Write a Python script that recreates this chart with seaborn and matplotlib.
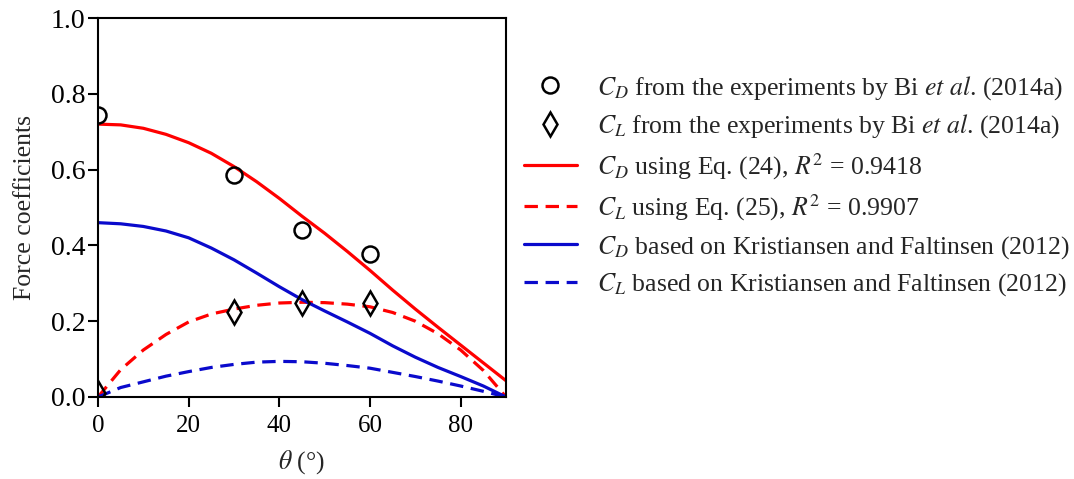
import matplotlib
matplotlib.use("Agg")
import matplotlib.pyplot as plt
import seaborn as sns
import pandas as pd

# ---- data ----
theta = [0, 5, 10, 15, 20, 25, 30, 35, 40, 45, 50, 55, 60, 65, 70, 75, 80, 85, 90]
cd_eq24 = [0.720, 0.718, 0.709, 0.693, 0.671, 0.643, 0.608, 0.568, 0.524, 0.477,
           0.432, 0.384, 0.334, 0.282, 0.232, 0.184, 0.137, 0.090, 0.043]
cl_eq25 = [0.000, 0.072, 0.124, 0.165, 0.198, 0.219, 0.232, 0.242, 0.248, 0.250,
           0.249, 0.245, 0.238, 0.223, 0.200, 0.167, 0.124, 0.070, 0.000]
cd_kf = [0.460, 0.457, 0.450, 0.438, 0.420, 0.393, 0.362, 0.327, 0.291, 0.257,
         0.227, 0.198, 0.168, 0.135, 0.105, 0.078, 0.054, 0.029, 0.000]
cl_kf = [0.000, 0.025, 0.040, 0.055, 0.067, 0.078, 0.086, 0.092, 0.094, 0.093,
         0.089, 0.083, 0.076, 0.065, 0.054, 0.042, 0.029, 0.015, 0.000]

exp_theta = [0, 30, 45, 60]
cd_exp = [0.745, 0.587, 0.440, 0.378]
cl_exp = [0.010, 0.223, 0.249, 0.247]

labels = [
    r"$C_D$ from the experiments by Bi $\mathit{et\ al}$. (2014a)",
    r"$C_L$ from the experiments by Bi $\mathit{et\ al}$. (2014a)",
    r"$C_D$ using Eq. (24), $R^2$ = 0.9418",
    r"$C_L$ using Eq. (25), $R^2$ = 0.9907",
    r"$C_D$ based on Kristiansen and Faltinsen (2012)",
    r"$C_L$ based on Kristiansen and Faltinsen (2012)",
]
xticks = [0, 20, 40, 60, 80]
yticks = [0.0, 0.2, 0.4, 0.6, 0.8, 1.0]

# ---- style ----
sns.set_theme(style="ticks")
plt.rcParams["font.family"] = ["Liberation Serif", "DejaVu Serif"]
plt.rcParams["mathtext.fontset"] = "stix"
FS = 18.5

RED = "#ff0000"
BLUE = "#0a0acc"

fig = plt.figure(figsize=(10.74, 4.79), dpi=100)
ax = fig.add_axes([98 / 1074, 1 - 397 / 479, (506 - 98) / 1074, (397 - 18) / 479])

curves = pd.DataFrame({"theta": theta, "cd24": cd_eq24, "cl25": cl_eq25,
                       "cdkf": cd_kf, "clkf": cl_kf})
exp = pd.DataFrame({"theta": exp_theta, "cd": cd_exp, "cl": cl_exp})

mk = dict(linestyle="", mfc="none", mec="black", mew=1.8, zorder=4)
sns.lineplot(data=exp, x="theta", y="cd", ax=ax, marker="o", ms=11.5, label=labels[0], **mk)
sns.lineplot(data=exp, x="theta", y="cl", ax=ax, marker="d", ms=12.5, label=labels[1], **mk)

lw = 2.3
dash = (4.2, 2.4)
sns.lineplot(data=curves, x="theta", y="cd24", ax=ax, color=RED, lw=lw, label=labels[2])
sns.lineplot(data=curves, x="theta", y="cl25", ax=ax, color=RED, lw=lw, label=labels[3],
             linestyle=(0, dash))
sns.lineplot(data=curves, x="theta", y="cdkf", ax=ax, color=BLUE, lw=lw, label=labels[4])
sns.lineplot(data=curves, x="theta", y="clkf", ax=ax, color=BLUE, lw=lw, label=labels[5],
             linestyle=(0, dash))

ax.set_xlim(0, 90)
ax.set_ylim(0, 1.0)
ax.set_xticks(xticks)
ax.set_yticks(yticks)
ax.set_yticklabels([f"{v:.1f}" for v in yticks])
ax.set_xlabel(r"$\mathit{\theta}$ (°)", fontsize=FS, labelpad=8)
ax.set_ylabel("Force coefficients", fontsize=FS, labelpad=11)
ax.tick_params(axis="both", which="major", direction="out", length=7, width=1.5,
               color="black", labelcolor="black")
ax.tick_params(axis="x", labelsize=18, pad=6)
ax.tick_params(axis="y", labelsize=20, pad=2)
for s in ax.spines.values():
    s.set_visible(True)
    s.set_linewidth(1.5)
    s.set_color("black")

handles, labs = ax.get_legend_handles_labels()
order = [labs.index(l) for l in labels]
ax.legend([handles[i] for i in order], [labs[i] for i in order],
          loc="center left", bbox_to_anchor=(524 / 1074, 1 - 186 / 479),
          bbox_transform=fig.transFigure, frameon=False, fontsize=FS,
          borderpad=0, borderaxespad=0, handlelength=2.05, handletextpad=0.78,
          labelspacing=0.42, numpoints=1)

fig.savefig("out.png", dpi=100)
